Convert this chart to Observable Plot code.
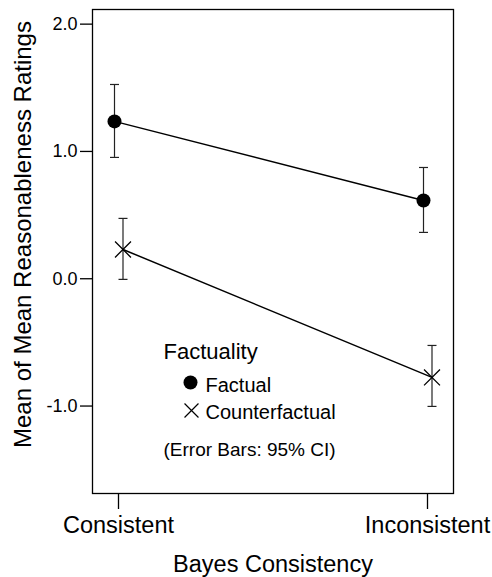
<!DOCTYPE html>
<html>
<head>
<meta charset="utf-8">
<script src="https://cdn.jsdelivr.net/npm/d3@7"></script>
<script src="https://cdn.jsdelivr.net/npm/@observablehq/plot@0.6"></script>
<style>
  html, body { margin: 0; padding: 0; background: #fff; }
  #chart svg { display: block; }
</style>
</head>
<body>
<div id="chart"></div>
<script>
const categories = ["Consistent", "Inconsistent"];
const yTicks = [-1, 0, 1, 2];

const factualMean = [1.236, 0.615];
const factualLow  = [0.953, 0.364];
const factualHigh = [1.526, 0.874];

const counterMean = [0.230, -0.775];
const counterLow  = [-0.005, -1.003];
const counterHigh = [0.474, -0.524];

const font = "'Liberation Sans', Arial, sans-serif";

const factual = categories.map((c, i) => ({cat: c, mean: factualMean[i], lo: factualLow[i], hi: factualHigh[i]}));
const counter = categories.map((c, i) => ({cat: c, mean: counterMean[i], lo: counterLow[i], hi: counterHigh[i]}));

const capSymbol = {
  draw(ctx) { ctx.moveTo(-4.5, 0); ctx.lineTo(4.5, 0); }
};

const dxF = -4, dxC = 4.5;

const chart = Plot.plot({
  width: 492,
  height: 577,
  marginLeft: 92,
  marginTop: 9,
  marginRight: 39,
  marginBottom: 84,
  style: {fontFamily: font, background: "#fff", color: "#000"},
  x: {type: "point", domain: categories, padding: 0.084},
  y: {domain: [-1.687, 2.115]},
  marks: [
    Plot.axisY({ticks: yTicks, tickFormat: d => d.toFixed(1), tickSize: 12, tickPadding: 3, fontSize: 18,
      strokeWidth: 1.3, label: null}),
    Plot.text(["Mean of Mean Reasonableness Ratings"], {text: d => d, frameAnchor: "left", dx: -79, dy: -17,
      rotate: -90, lineAnchor: "top", textAnchor: "middle", fontSize: 24, fill: "#000"}),
    Plot.axisX({tickSize: 16, tickPadding: 7, fontSize: 23.5, strokeWidth: 1.3,
      label: "Bayes Consistency", labelAnchor: "center", labelArrow: "none", labelOffset: 78}),
    Plot.frame({stroke: "#000", strokeWidth: 1.3}),
    // error bars
    Plot.ruleX(factual, {x: "cat", y1: "lo", y2: "hi", dx: dxF, stroke: "#222", strokeWidth: 1.2}),
    Plot.dot(factual, {x: "cat", y: "lo", dx: dxF, symbol: capSymbol, stroke: "#222", strokeWidth: 1.2}),
    Plot.dot(factual, {x: "cat", y: "hi", dx: dxF, symbol: capSymbol, stroke: "#222", strokeWidth: 1.2}),
    Plot.ruleX(counter, {x: "cat", y1: "lo", y2: "hi", dx: dxC, stroke: "#222", strokeWidth: 1.2}),
    Plot.dot(counter, {x: "cat", y: "lo", dx: dxC, symbol: capSymbol, stroke: "#222", strokeWidth: 1.2}),
    Plot.dot(counter, {x: "cat", y: "hi", dx: dxC, symbol: capSymbol, stroke: "#222", strokeWidth: 1.2}),
    // lines
    Plot.line(factual, {x: "cat", y: "mean", dx: dxF, stroke: "#000", strokeWidth: 1.5}),
    Plot.line(counter, {x: "cat", y: "mean", dx: dxC, stroke: "#000", strokeWidth: 1.5}),
    // markers
    Plot.dot(factual, {x: "cat", y: "mean", dx: dxF, r: 7, fill: "#000", stroke: null}),
    Plot.dot(counter, {x: "cat", y: "mean", dx: dxC, r: 7.3, symbol: "times", stroke: "#000", strokeWidth: 1.3}),
    // legend
    Plot.text(["Factuality"], {text: d => d, frameAnchor: "top-left", dx: 71, dy: 349, textAnchor: "start", lineAnchor: "bottom", fontSize: 22, fill: "#000"}),
    Plot.dot([0], {frameAnchor: "top-left", dx: 98, dy: 373, r: 7, fill: "#000", stroke: null}),
    Plot.text(["Factual"], {text: d => d, frameAnchor: "top-left", dx: 113, dy: 382, textAnchor: "start", lineAnchor: "bottom", fontSize: 20, fill: "#000"}),
    Plot.dot([0], {frameAnchor: "top-left", dx: 99, dy: 401, r: 6.4, symbol: "times", stroke: "#000", strokeWidth: 1.2}),
    Plot.text(["Counterfactual"], {text: d => d, frameAnchor: "top-left", dx: 113, dy: 409, textAnchor: "start", lineAnchor: "bottom", fontSize: 20, fill: "#000"}),
    Plot.text(["(Error Bars: 95% CI)"], {text: d => d, frameAnchor: "top-left", dx: 71, dy: 446, textAnchor: "start", lineAnchor: "bottom", fontSize: 19, fill: "#000"})
  ]
});
document.getElementById("chart").appendChild(chart);
</script>
</body>
</html>
